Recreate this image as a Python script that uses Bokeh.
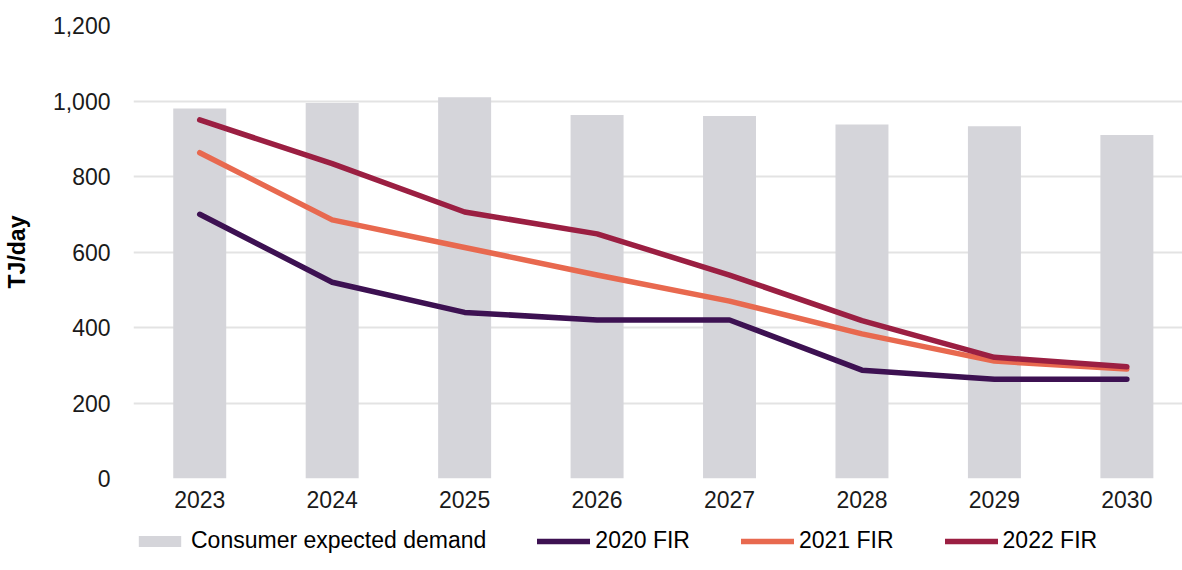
from bokeh.plotting import figure
from bokeh.layouts import column
from bokeh.models import Range1d, FixedTicker, NumeralTickFormatter, Legend, LegendItem, ColumnDataSource
from bokeh.embed import file_html
from bokeh.resources import INLINE

years = [2023, 2024, 2025, 2026, 2027, 2028, 2029, 2030]
demand = [980, 995, 1010, 963, 960, 938, 933, 910]
fir2020 = [700, 520, 440, 420, 420, 287, 263, 263]
fir2021 = [863, 685, 612, 539, 470, 383, 311, 290]
fir2022 = [950, 834, 706, 648, 539, 418, 321, 296]
y_ticks = [0, 200, 400, 600, 800, 1000, 1200]
series_names = ["Consumer expected demand", "2020 FIR", "2021 FIR", "2022 FIR"]

src = ColumnDataSource(dict(year=years, demand=demand, f20=fir2020, f21=fir2021, f22=fir2022))

FONT = "Liberation Sans"
C_BAR, C20, C21, C22 = "#d5d5da", "#3d1152", "#e8694f", "#9b1f42"

p = figure(frame_width=1049, frame_height=453, output_backend="svg", toolbar_location=None,
           x_range=Range1d(2022.5, 2030.42), y_range=Range1d(0, 1200),
           min_border_left=125, min_border_right=0, min_border_top=25, min_border_bottom=48)
p.outline_line_color = None
p.background_fill_color = "white"
p.border_fill_color = "white"

p.vbar(x="year", top="demand", bottom=0, width=0.40, source=src,
       fill_color=C_BAR, line_color=None)
for col, c in (("f20", C20), ("f21", C21), ("f22", C22)):
    p.line(x="year", y=col, source=src, line_color=c, line_width=5.5,
           line_join="round", line_cap="round")

p.xgrid.visible = False
p.ygrid.grid_line_color = "#e3e3e3"
p.ygrid.grid_line_width = 2
p.ygrid.ticker = FixedTicker(ticks=y_ticks)

p.xaxis.ticker = FixedTicker(ticks=years)
p.yaxis.ticker = FixedTicker(ticks=y_ticks)
p.yaxis.formatter = NumeralTickFormatter(format="0,0")
for ax in (p.xaxis[0], p.yaxis[0]):
    ax.axis_line_color = None
    ax.major_tick_line_color = None
    ax.minor_tick_line_color = None
    ax.major_tick_out = 0
    ax.major_tick_in = 0
    ax.major_label_text_font = FONT
    ax.major_label_text_font_size = "23px"
    ax.major_label_text_color = "#1a1a1a"
p.xaxis.major_label_standoff = 12
p.yaxis.major_label_standoff = 23
p.yaxis.axis_label = "TJ/day"
p.yaxis.axis_label_text_font = FONT
p.yaxis.axis_label_text_font_size = "23px"
p.yaxis.axis_label_text_font_style = "bold"
p.yaxis.axis_label_text_color = "#000000"
p.yaxis.axis_label_standoff = 20

# legend strip: a separate figure so the legend is not clipped by the chart frame
lg = figure(width=1174, height=28, output_backend="svg", toolbar_location=None,
            x_range=Range1d(0, 1), y_range=Range1d(0, 1),
            x_axis_location=None, y_axis_location=None,
            min_border_left=0, min_border_right=0, min_border_top=0, min_border_bottom=0)
lg.outline_line_color = None
lg.grid.visible = False
lg.border_fill_color = "white"
# legend-only swatch renderers (their points lie outside the strip's visible range)
r_bar = lg.vbar(x=[10], top=[10], width=0.4, fill_color=C_BAR, line_color=None)
r20 = lg.line(x=[10, 11], y=[10, 10], line_color=C20, line_width=5.5, line_cap="round")
r21 = lg.line(x=[10, 11], y=[10, 10], line_color=C21, line_width=5.5, line_cap="round")
r22 = lg.line(x=[10, 11], y=[10, 10], line_color=C22, line_width=5.5, line_cap="round")

legend = Legend(items=[
    LegendItem(label=series_names[0], renderers=[r_bar]),
    LegendItem(label=series_names[1], renderers=[r20]),
    LegendItem(label=series_names[2], renderers=[r21]),
    LegendItem(label=series_names[3], renderers=[r22]),
], orientation="horizontal", location=(0, 0))
legend.label_text_font = FONT
legend.label_text_font_size = "23px"
legend.label_text_color = "#000000"
legend.glyph_width = 53
legend.glyph_height = 14
legend.label_standoff = 5
legend.label_width = 87
legend.spacing = 51
legend.padding = 0
legend.margin = 0
legend.border_line_color = None
legend.background_fill_alpha = 0
lg.add_layout(legend, "center")

layout = column(p, lg, spacing=0)
open("out.html", "w").write(file_html(layout, INLINE))
